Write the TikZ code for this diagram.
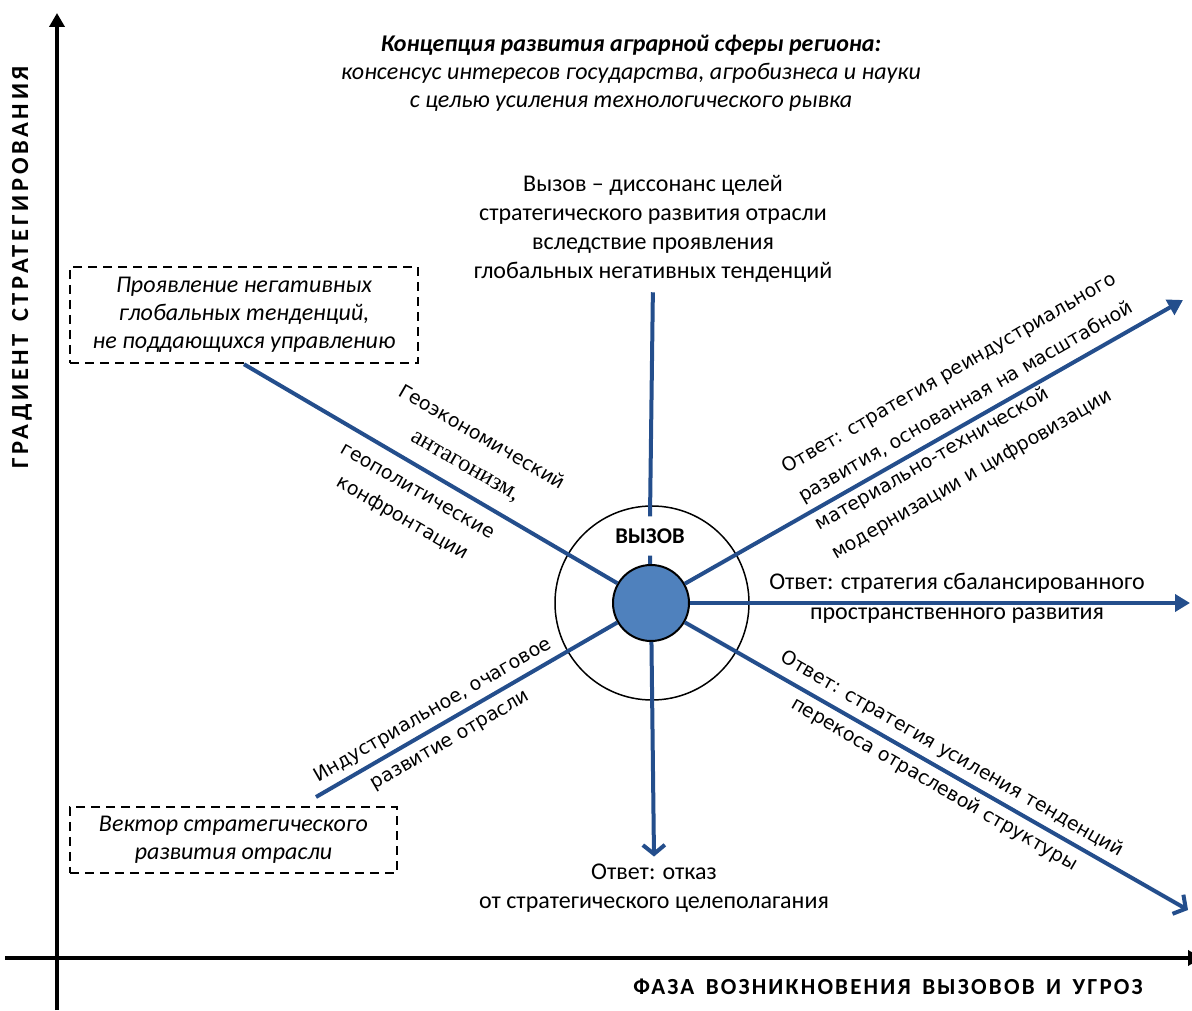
\documentclass[tikz,border=0pt]{standalone}
\usepackage{fontspec}
\setmainfont{Carlito}
\newfontfamily\dvfont{DejaVu Sans}
\newfontfamily\serfont{Liberation Serif}
\newfontfamily\axfontx[LetterSpace=9.5]{Carlito}
\newfontfamily\axfonty[LetterSpace=15]{Carlito}
\usetikzlibrary{arrows.meta}
\definecolor{lineblue}{RGB}{36,78,140}
\definecolor{coreblue}{RGB}{79,129,189}
\begin{document}
\begin{tikzpicture}[x=1pt,y=1pt,
  blueln/.style={draw=lineblue,line width=4pt},
  filltip/.style={-{Triangle[length=15pt,width=17pt]}},
  opentip/.style={-{Straight Barb[length=9pt,width=22pt]}},
  axisln/.style={draw=black,line width=4pt},
  dbox/.style={draw=black,line width=2.5pt,dash pattern=on 9pt off 6pt,inner sep=0pt},
  txt/.style={font=\fontsize{24}{29}\selectfont,align=center,inner sep=0pt},
  itxt/.style={font=\itshape\fontsize{24}{28}\selectfont,align=center,inner sep=0pt},
  rot/.style={align=center,inner sep=0pt},
  axlab/.style={inner sep=0pt}
]
\useasboundingbox (0,0) rectangle (1192,1010);
% axes
\coordinate (yb) at (57,0);
\coordinate (yt) at (57,997);
\coordinate (xl) at (5,52);
\coordinate (xr) at (1202,52);
\draw[axisln,-{Triangle[length=14pt,width=15pt]}] (yb) -- (yt);
\draw[axisln,-{Triangle[length=14pt,width=15pt]}] (xl) -- (xr);
\node[axlab,rotate=90,font=\axfonty\bfseries\fontsize{24.5}{28}\selectfont] (ylab) at (22,742.5) {ГРАДИЕНТ\hspace{0.5em}СТРАТЕГИРОВАНИЯ};
\node[axlab,font=\axfontx\bfseries\fontsize{23}{26}\selectfont] (xlab) at (888,23) {ФАЗА\hspace{0.5em}ВОЗНИКНОВЕНИЯ\hspace{0.5em}ВЫЗОВОВ\hspace{0.5em}И\hspace{0.5em}УГРОЗ};
% title
\node[itxt] (title) at (631,937) {\textbf{Концепция развития аграрной сферы региона:}\\консенсус интересов государства, агробизнеса и науки\\с целью усиления технологического рывка};
% challenge text
\node[txt] (ch) at (653,781.5) {Вызов – диссонанс целей\\стратегического развития отрасли\\вследствие проявления\\глобальных негативных тенденций};
% boxes
\node[dbox,minimum width=348pt,minimum height=96pt] (box1) at (244,695) {};
\node[itxt] (box1t) at (244,695) {Проявление негативных\\глобальных тенденций,\\не поддающихся управлению};
\node[dbox,minimum width=327pt,minimum height=66pt] (box2) at (233.5,170) {};
\node[itxt] (box2t) at (233.5,170) {Вектор стратегического\\развития отрасли};
% circles
\node[circle,draw=black,line width=1.5pt,minimum size=194pt,inner sep=0pt] (outer) at (652,407) {};
\node[circle,draw=black,fill=coreblue,line width=2pt,minimum size=76pt,inner sep=0pt] (core) at (651,407) {};
\node[font=\bfseries\fontsize{22.5}{26}\selectfont,inner xsep=2pt,inner ysep=12pt] (vyz) at (650,474) {ВЫЗОВ};
% answer texts
\node[txt,font=\fontsize{24}{30}\selectfont] (rt) at (957,412) {Ответ: стратегия сбалансированного\\пространственного развития};
\node[txt,inner sep=7pt] (otk) at (654,122) {Ответ: отказ\\от стратегического целеполагания};
% connectors
\coordinate (ll) at (316,213);
\coordinate (ur) at (1183,710);
\coordinate (rr) at (1190,407);
\coordinate (lr) at (1188,100);
\draw[blueln,shorten <=10pt] (ch.south) -- (vyz.north);
\draw[blueln] (vyz.south) -- (core);
\draw[blueln] (box1.south) -- (core);
\draw[blueln] (ll) -- (core);
\draw[blueln,filltip] (core) -- (ur);
\draw[blueln,filltip] (core) -- (rr);
\draw[blueln,opentip] (core) -- (lr);
\draw[blueln,opentip] (core) -- (otk.north);
% rotated labels
\node[rot,rotate=-30,font=\dvfont\fontsize{19}{33}\selectfont] (geoA) at (473.4,558) {Геоэкономический\\{\serfont\fontsize{24}{33}\selectfont антагонизм,}};
\node[rot,rotate=-30,font=\dvfont\fontsize{19}{31}\selectfont] (geoB) at (409,503.4) {геополитические\\конфронтации};
\node[rot,rotate=30,align=left,font=\dvfont\fontsize{19}{33}\selectfont] (urt) at (974.3,593.4) {Ответ: стратегия реиндустриального\\развития, основанная на масштабной\\материально-технической\\модернизации и цифровизации};
\node[rot,rotate=-30,font=\dvfont\fontsize{19}{35}\selectfont] (lrt) at (943,240.4) {Ответ: стратегия усиления тенденций\\перекоса отраслевой структуры};
\node[rot,rotate=30,font=\dvfont\fontsize{19}{34.5}\selectfont] (llt) at (441.5,284.6) {Индустриальное, очаговое\\развитие отрасли};
\end{tikzpicture}
\end{document}
